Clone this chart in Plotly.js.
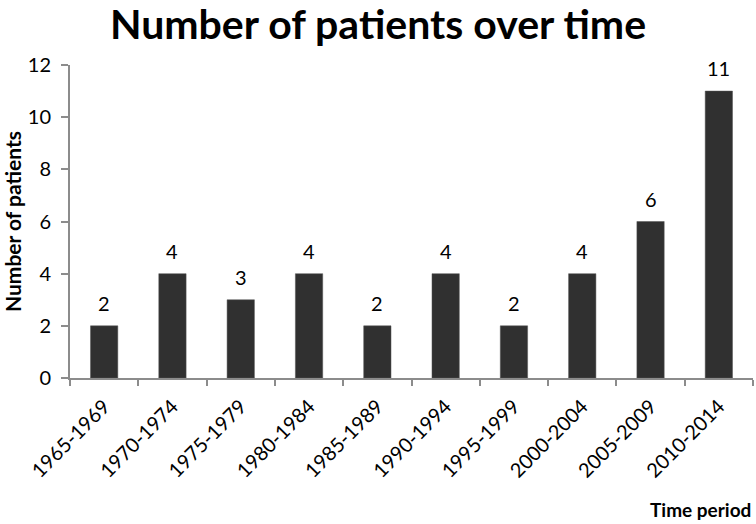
<!DOCTYPE html>
<html>
<head>
<meta charset="utf-8">
<script src="https://cdn.plot.ly/plotly-3.0.1.min.js"></script>
<style>
  body { margin: 0; background: #fff; }
  #myDiv { width: 756px; height: 524px; }
</style>
</head>
<body>
<div id="myDiv"></div>
<script>
var periods = ['1965-1969', '1970-1974', '1975-1979', '1980-1984', '1985-1989',
               '1990-1994', '1995-1999', '2000-2004', '2005-2009', '2010-2014'];
var patients = [2, 4, 3, 4, 2, 4, 2, 4, 6, 11];

var trace = {
    type: 'bar',
    x: periods,
    y: patients,
    marker: { color: '#303030', line: { color: '#555', width: 0.5 } },
    hoverinfo: 'x+y'
};

// value labels sit a bit higher above the bars than plotly's outside text
var labels = periods.map(function (p, i) {
    return {
        x: p,
        y: patients[i],
        xref: 'x',
        yref: 'y',
        text: String(patients[i]),
        showarrow: false,
        yanchor: 'bottom',
        yshift: 9,
        font: { size: 20, color: '#000' }
    };
});

labels.push({
    xref: 'paper',
    yref: 'paper',
    x: 1,
    y: -0.42,
    xanchor: 'right',
    yanchor: 'middle',
    showarrow: false,
    text: '<b>Time period</b>',
    font: { size: 19, color: '#000' }
});

var layout = {
    width: 756,
    height: 524,
    margin: { l: 70, r: 3, t: 65, b: 146 },
    paper_bgcolor: '#fff',
    plot_bgcolor: '#fff',
    bargap: 0.6,
    showlegend: false,
    font: { family: 'Lato, sans-serif', color: '#000' },
    title: {
        text: '<b>Number of patients over time</b>',
        font: { family: 'Lato, sans-serif', size: 41, color: '#000' },
        x: 0.5,
        xanchor: 'center',
        y: 0.953,
        yanchor: 'middle'
    },
    xaxis: {
        type: 'category',
        tickangle: -45,
        tickfont: { size: 20, color: '#000' },
        ticklabelstandoff: 7,
        showline: true,
        linecolor: '#8c8c8c',
        linewidth: 2,
        ticks: 'outside',
        tickson: 'boundaries',
        ticklen: 6,
        tickwidth: 2,
        tickcolor: '#8c8c8c',
        showgrid: false,
        zeroline: false
    },
    yaxis: {
        range: [0, 12],
        dtick: 2,
        tickfont: { size: 20, color: '#000' },
        ticklabelstandoff: 6,
        showline: true,
        linecolor: '#8c8c8c',
        linewidth: 2,
        ticks: 'outside',
        ticklen: 7,
        tickwidth: 2,
        tickcolor: '#8c8c8c',
        showgrid: false,
        zeroline: false,
        title: {
            text: '<b>Number of patients</b>',
            font: { size: 21, color: '#000' },
            standoff: 2
        }
    },
    annotations: labels
};

var config = { responsive: false, displayModeBar: false };
Plotly.newPlot('myDiv', [trace], layout, config);
</script>
</body>
</html>
